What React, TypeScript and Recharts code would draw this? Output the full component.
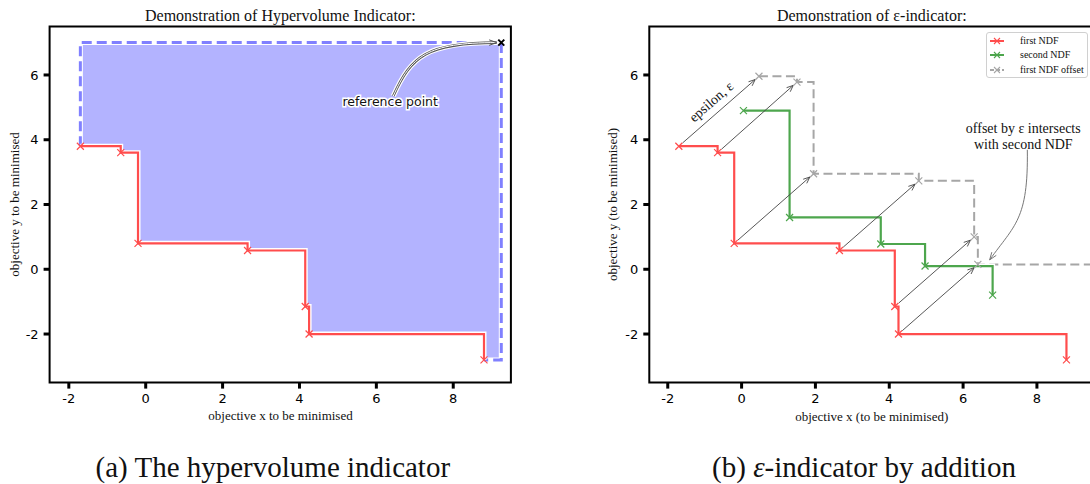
import React from 'react';
import {
  ComposedChart,
  Line,
  Area,
  XAxis,
  YAxis,
  ReferenceArea,
  ReferenceLine,
  ReferenceDot,
} from 'recharts';

// axis ticks (same for both panels)
const X_TICKS = [-2, 0, 2, 4, 6, 8];
const Y_TICKS = [-2, 0, 2, 4, 6];
const X_DOMAIN = [-2.5, 9.5];
const Y_DOMAIN = [-3.5, 7.5];

// first non-dominated front
const FIRST_X = [-1.7, -0.65, -0.2, 2.65, 4.15, 4.25, 8.8];
const FIRST_Y = [3.8, 3.6, 0.8, 0.58, -1.15, -2.0, -2.8];

// second non-dominated front
const SECOND_X = [0.05, 1.3, 3.77, 4.97, 6.8];
const SECOND_Y = [4.9, 1.6, 0.78, 0.1, -0.8];

// first front shifted by epsilon
const OFFSET_X = [0.47, 1.5, 1.95, 4.8, 6.3, 6.4, 10.95];
const OFFSET_Y = [5.96, 5.78, 2.95, 2.73, 1.0, 0.15, -0.65];

const REF_X = 9.25;
const REF_Y = 7.0;

const RED = '#ff4d4d';
const GREEN = '#4da64d';
const GRAY = '#a6a6a6';
const BLUE_FILL = '#b3b3ff';
const BLUE_LINE = '#8080ff';
const SERIF = '"Liberation Serif", "DejaVu Serif", serif';
const SANS = '"DejaVu Sans", sans-serif';

const firstData = FIRST_X.map((x, i) => ({ x, y: FIRST_Y[i] }));
const secondData = SECOND_X.map((x, i) => ({ x, y: SECOND_Y[i] }));
const offsetData = OFFSET_X.map((x, i) => ({ x, y: OFFSET_Y[i] }));

const lastFirst = firstData[firstData.length - 1];
const hvRegion = [
  ...firstData.map((p) => ({ x: p.x, band: [p.y, REF_Y] })),
  { x: REF_X, band: [lastFirst.y, REF_Y] },
];
const hvBorder = [
  { x: firstData[0].x, y: firstData[0].y },
  { x: firstData[0].x, y: REF_Y },
  { x: REF_X, y: REF_Y },
  { x: REF_X, y: lastFirst.y },
  { x: lastFirst.x, y: lastFirst.y },
];

function XMark({ cx, cy, color, half = 3.5, w = 1.2 }: any) {
  if (cx == null || cy == null) return null;
  const s = half;
  return (
    <path
      d={`M${cx - s},${cy - s}L${cx + s},${cy + s}M${cx - s},${cy + s}L${cx + s},${cy - s}`}
      stroke={color}
      strokeWidth={w}
      fill="none"
    />
  );
}

const xDot = (color: string, half = 3.5, w = 1.2) => (p: any) => (
  <XMark key={`m-${color}-${p.index}`} cx={p.cx} cy={p.cy} color={color} half={half} w={w} />
);

function headPath(tx: number, ty: number, ang: number, len = 7, spread = 0.4) {
  const ax = tx - len * Math.cos(ang - spread);
  const ay = ty - len * Math.sin(ang - spread);
  const bx = tx - len * Math.cos(ang + spread);
  const by = ty - len * Math.sin(ang + spread);
  return `M${ax},${ay}L${tx},${ty}L${bx},${by}`;
}

// straight epsilon arrows, shortened at both ends
const epsArrow = (p: any) => {
  const { x1, y1, x2, y2 } = p;
  const dx = x2 - x1;
  const dy = y2 - y1;
  const len = Math.hypot(dx, dy) || 1;
  const ux = dx / len;
  const uy = dy / len;
  const sx = x1 + ux * 5;
  const sy = y1 + uy * 5;
  const ex = x2 - ux * 5;
  const ey = y2 - uy * 5;
  return (
    <g>
      <line x1={sx} y1={sy} x2={ex} y2={ey} stroke="#444" strokeWidth={0.9} />
      <path d={headPath(ex, ey, Math.atan2(uy, ux))} stroke="#444" strokeWidth={0.9} fill="none" />
    </g>
  );
};

const refArrow = (p: any) => {
  const { x1, y1, x2, y2 } = p;
  const c1x = x1 + 18;
  const c1y = y1 - 40;
  const c2x = x2 - 70;
  const c2y = y2;
  const d = `M${x1},${y1}C${c1x},${c1y} ${c2x},${c2y} ${x2},${y2}`;
  return (
    <g>
      <path d={d} stroke="#fff" strokeWidth={5} fill="none" />
      <path d={d} stroke="#555" strokeWidth={2.6} fill="none" />
      <path d={d} stroke="#fff" strokeWidth={1} fill="none" />
      <path d={headPath(x2, y2, Math.atan2(y2 - c2y, x2 - c2x), 8, 0.35)} stroke="#555" strokeWidth={1} fill="none" />
    </g>
  );
};

const intersectArrow = (p: any) => {
  const { x1, y1, x2, y2 } = p;
  const c1x = x1 + 1;
  const c1y = y1 + 70;
  const c2x = x2 + 25;
  const c2y = y2 - 35;
  const d = `M${x1},${y1}C${c1x},${c1y} ${c2x},${c2y} ${x2},${y2}`;
  return (
    <g>
      <path d={d} stroke="#777" strokeWidth={1} fill="none" />
      <path d={headPath(x2, y2, Math.atan2(y2 - c2y, x2 - c2x), 8, 0.35)} stroke="#777" strokeWidth={1} fill="none" />
    </g>
  );
};

const refLabel = (p: any) => (
  <text
    x={p.cx}
    y={p.cy}
    textAnchor="middle"
    dominantBaseline="central"
    fontFamily={SANS}
    fontSize={12.5}
    fill="#111"
    stroke="#fff"
    strokeWidth={3}
    paintOrder="stroke"
  >
    reference point
  </text>
);

const epsLabel = (p: any) => (
  <text
    x={p.cx}
    y={p.cy}
    textAnchor="middle"
    dominantBaseline="central"
    fontFamily={SERIF}
    fontSize={14}
    fill="#111"
    transform={`rotate(-41 ${p.cx} ${p.cy})`}
  >
    epsilon, ε
  </text>
);

const intersectLabel = (p: any) => (
  <text textAnchor="middle" fontFamily={SERIF} fontSize={14} fill="#111">
    <tspan x={p.cx} y={p.cy + 5}>offset by ε intersects</tspan>
    <tspan x={p.cx} y={p.cy + 21}>with second NDF</tspan>
  </text>
);

const tickStyle = { fontSize: 13, fill: '#000', fontFamily: SANS };
const tickLine = { stroke: '#000', strokeWidth: 3 };

function LeftPanel() {
  return (
    <ComposedChart width={545} height={484} margin={{ top: 26.4, right: 34.1, bottom: 71.4, left: 9.6 }}>
      <XAxis
        type="number"
        dataKey="x"
        domain={X_DOMAIN}
        ticks={X_TICKS}
        allowDataOverflow
        axisLine={false}
        tickLine={tickLine}
        tickSize={6}
        tickMargin={5}
        tick={tickStyle}
        height={30}
      />
      <YAxis
        type="number"
        domain={Y_DOMAIN}
        ticks={Y_TICKS}
        allowDataOverflow
        axisLine={false}
        tickLine={tickLine}
        tickSize={6}
        tickMargin={5}
        tick={tickStyle}
        width={40}
      />
      <Area
        data={hvRegion}
        dataKey="band"
        type="stepAfter"
        fill={BLUE_FILL}
        fillOpacity={1}
        stroke="none"
        isAnimationActive={false}
        activeDot={false}
      />
      <Line data={hvBorder} dataKey="y" stroke="#fff" strokeWidth={5} dot={false} activeDot={false} isAnimationActive={false} />
      <Line
        data={hvBorder}
        dataKey="y"
        stroke={BLUE_LINE}
        strokeWidth={3}
        strokeDasharray="10 5"
        dot={false}
        activeDot={false}
        isAnimationActive={false}
      />
      <Line data={firstData} dataKey="y" type="stepAfter" stroke="#fff" strokeWidth={5} dot={false} activeDot={false} isAnimationActive={false} />
      <Line
        data={firstData}
        dataKey="y"
        type="stepAfter"
        stroke={RED}
        strokeWidth={2.2}
        dot={xDot(RED)}
        activeDot={false}
        isAnimationActive={false}
      />
      <ReferenceDot x={REF_X} y={REF_Y} r={0} ifOverflow="visible" shape={(p: any) => <XMark cx={p.cx} cy={p.cy} color="#000" half={3} w={2} />} />
      <ReferenceLine segment={[{ x: 6.44, y: 5.35 }, { x: 9.13, y: 7.0 }]} ifOverflow="visible" shape={refArrow} />
      <ReferenceDot x={6.36} y={5.18} r={0} ifOverflow="visible" shape={refLabel} />
      <ReferenceArea x1={X_DOMAIN[0]} x2={X_DOMAIN[1]} y1={Y_DOMAIN[0]} y2={Y_DOMAIN[1]} fill="none" stroke="#000" strokeWidth={2} ifOverflow="visible" />
    </ComposedChart>
  );
}

function RightPanel() {
  return (
    <ComposedChart width={560} height={484} margin={{ top: 26.4, right: 12.7, bottom: 71.4, left: 64.3 }}>
      <XAxis
        type="number"
        dataKey="x"
        domain={X_DOMAIN}
        ticks={X_TICKS}
        allowDataOverflow
        axisLine={false}
        tickLine={tickLine}
        tickSize={6}
        tickMargin={5}
        tick={tickStyle}
        height={30}
      />
      <YAxis
        type="number"
        domain={Y_DOMAIN}
        ticks={Y_TICKS}
        allowDataOverflow
        axisLine={false}
        tickLine={tickLine}
        tickSize={6}
        tickMargin={5}
        tick={tickStyle}
        width={40}
      />
      <Line data={offsetData} dataKey="y" type="stepAfter" stroke="#fff" strokeWidth={4.5} dot={false} activeDot={false} isAnimationActive={false} />
      <Line
        data={offsetData}
        dataKey="y"
        type="stepAfter"
        stroke={GRAY}
        strokeWidth={2}
        strokeDasharray="9 4.5"
        dot={xDot(GRAY)}
        activeDot={false}
        isAnimationActive={false}
      />
      <Line data={secondData} dataKey="y" type="stepAfter" stroke="#fff" strokeWidth={5} dot={false} activeDot={false} isAnimationActive={false} />
      <Line
        data={secondData}
        dataKey="y"
        type="stepAfter"
        stroke={GREEN}
        strokeWidth={2.2}
        dot={xDot(GREEN)}
        activeDot={false}
        isAnimationActive={false}
      />
      <Line data={firstData} dataKey="y" type="stepAfter" stroke="#fff" strokeWidth={5} dot={false} activeDot={false} isAnimationActive={false} />
      <Line
        data={firstData}
        dataKey="y"
        type="stepAfter"
        stroke={RED}
        strokeWidth={2.2}
        dot={xDot(RED)}
        activeDot={false}
        isAnimationActive={false}
      />
      {firstData.slice(0, 6).map((p, i) => (
        <ReferenceLine
          key={`eps-${i}`}
          segment={[{ x: p.x, y: p.y }, { x: OFFSET_X[i], y: OFFSET_Y[i] }]}
          ifOverflow="visible"
          shape={epsArrow}
        />
      ))}
      <ReferenceDot x={-0.82} y={5.17} r={0} ifOverflow="visible" shape={epsLabel} />
      <ReferenceLine segment={[{ x: 7.74, y: 3.69 }, { x: 6.72, y: 0.29 }]} ifOverflow="visible" shape={intersectArrow} />
      <ReferenceDot x={7.63} y={4.35} r={0} ifOverflow="visible" shape={intersectLabel} />
      <ReferenceArea x1={X_DOMAIN[0]} x2={X_DOMAIN[1]} y1={Y_DOMAIN[0]} y2={Y_DOMAIN[1]} fill="none" stroke="#000" strokeWidth={2} ifOverflow="visible" />
    </ComposedChart>
  );
}

const LEGEND_ROWS = [
  { label: 'first NDF', color: RED, dash: undefined as string | undefined },
  { label: 'second NDF', color: GREEN, dash: undefined as string | undefined },
  { label: 'first NDF offset', color: GRAY, dash: '4 2' },
];

function LegendBox() {
  return (
    <div
      style={{
        position: 'absolute',
        left: 986,
        top: 32,
        width: 102,
        height: 46,
        border: '1px solid #d0d0d0',
        borderRadius: 3,
        background: 'rgba(255,255,255,0.85)',
        boxSizing: 'border-box',
      }}
    >
      {LEGEND_ROWS.map((r, i) => (
        <div key={r.label} style={{ position: 'absolute', left: 2, top: 2 + i * 14.4, height: 12, width: 98 }}>
          <svg width={16} height={12} style={{ position: 'absolute', left: 0, top: 0 }}>
            <line x1={1} y1={6} x2={15} y2={6} stroke={r.color} strokeWidth={2} strokeDasharray={r.dash} />
            <XMark cx={8} cy={6} color={r.color} half={3} w={1.1} />
          </svg>
          <span
            style={{
              position: 'absolute',
              left: 31,
              top: -1,
              fontFamily: SERIF,
              fontSize: 10,
              lineHeight: '14px',
              whiteSpace: 'nowrap',
              color: '#111',
            }}
          >
            {r.label}
          </span>
        </div>
      ))}
    </div>
  );
}

function Texts() {
  const t = { fontFamily: SERIF, fill: '#111' };
  return (
    <svg width={1090} height={484} style={{ position: 'absolute', left: 0, top: 0, pointerEvents: 'none' }}>
      <text x={280.3} y={15} textAnchor="middle" dominantBaseline="central" fontSize={16} {...t}>
        Demonstration of Hypervolume Indicator:
      </text>
      <text x={871.8} y={15} textAnchor="middle" dominantBaseline="central" fontSize={16} {...t}>
        Demonstration of ε-indicator:
      </text>
      <text x={280.5} y={415.5} textAnchor="middle" dominantBaseline="central" fontSize={13} {...t}>
        objective x to be minimised
      </text>
      <text x={871.7} y={416.5} textAnchor="middle" dominantBaseline="central" fontSize={13} {...t}>
        objective x (to be minimised)
      </text>
      <text x={14} y={204.5} textAnchor="middle" dominantBaseline="central" fontSize={13} transform="rotate(-90 14 204.5)" {...t}>
        objective y to be minimised
      </text>
      <text x={612.8} y={204.5} textAnchor="middle" dominantBaseline="central" fontSize={13} transform="rotate(-90 612.8 204.5)" {...t}>
        objective y (to be minimised)
      </text>
      <text x={272.8} y={467} textAnchor="middle" dominantBaseline="central" fontSize={29} {...t}>
        (a) The hypervolume indicator
      </text>
      <text x={864} y={467} textAnchor="middle" dominantBaseline="central" fontSize={29} {...t}>
        (b) <tspan fontStyle="italic">ε</tspan>-indicator by addition
      </text>
    </svg>
  );
}

export default function App() {
  return (
    <div
      style={{
        position: 'absolute',
        left: 0,
        top: 0,
        width: 1090,
        height: 484,
        overflow: 'hidden',
        background: '#fff',
      }}
    >
      <div style={{ position: 'absolute', left: 0, top: 0 }}>
        <LeftPanel />
      </div>
      <div style={{ position: 'absolute', left: 545, top: 0 }}>
        <RightPanel />
      </div>
      <LegendBox />
      <Texts />
    </div>
  );
}
